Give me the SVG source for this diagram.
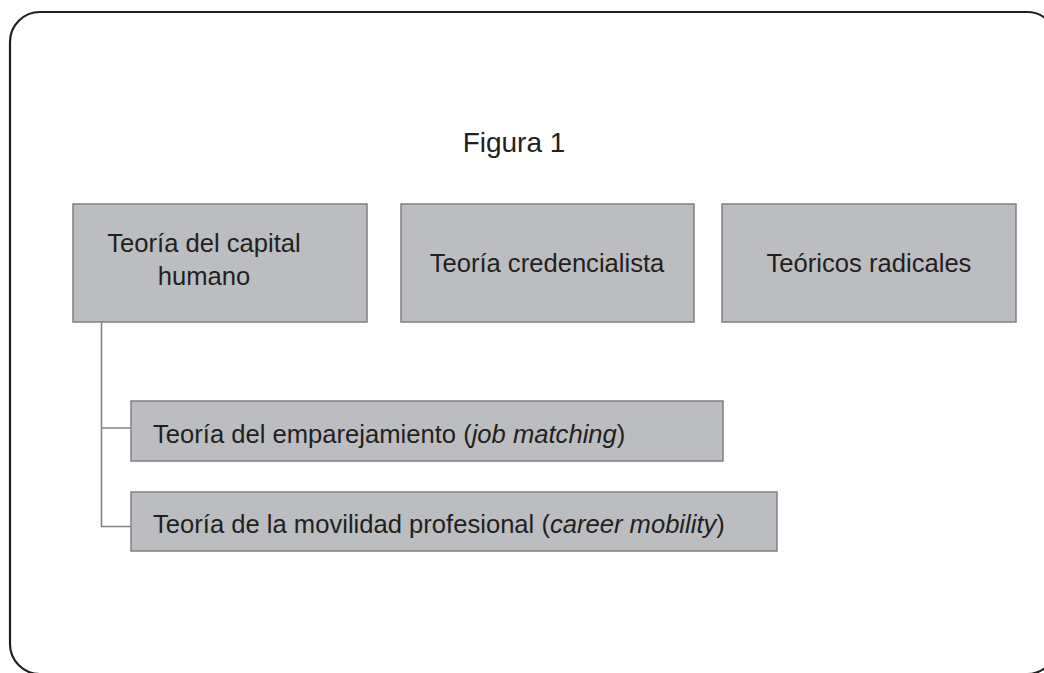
<svg xmlns="http://www.w3.org/2000/svg" width="1044" height="673" viewBox="0 0 1044 673">
<style>
.box{fill:#bcbdc0;stroke:#808080;stroke-width:1.5}
.t{font-family:"Liberation Sans",Arial,sans-serif;font-size:25.6px;fill:#231f20}
.c{stroke:#808080;stroke-width:1.5;fill:none}
</style>
<rect x="0" y="0" width="1044" height="673" fill="#ffffff"/>
<rect id="frame" x="10" y="12" width="1047" height="662" rx="30" ry="30" fill="none" stroke="#231f20" stroke-width="2.2"/>
<text id="title" class="t" x="514" y="152" text-anchor="middle" style="font-size:28px">Figura 1</text>
<g id="connectors">
<path class="c" d="M101.5 322 V526.5 H131 M101.5 428 H131"/>
</g>
<g id="n1">
<rect class="box" x="73" y="204" width="294" height="118"/>
<text class="t" x="204" y="252" text-anchor="middle">Teoría del capital</text>
<text class="t" x="204" y="285" text-anchor="middle">humano</text>
</g>
<g id="n2">
<rect class="box" x="401" y="204" width="293" height="118"/>
<text class="t" x="547" y="272" text-anchor="middle">Teoría credencialista</text>
</g>
<g id="n3">
<rect class="box" x="722" y="204" width="294" height="118"/>
<text class="t" x="869" y="272" text-anchor="middle">Teóricos radicales</text>
</g>
<g id="n4">
<rect class="box" x="131" y="401" width="592" height="60"/>
<text class="t" x="153" y="443">Teoría del emparejamiento (<tspan font-style="italic">job matching</tspan>)</text>
</g>
<g id="n5">
<rect class="box" x="131" y="492" width="646" height="59"/>
<text class="t" x="153" y="533">Teoría de la movilidad profesional (<tspan font-style="italic">career mobility</tspan>)</text>
</g>
</svg>
